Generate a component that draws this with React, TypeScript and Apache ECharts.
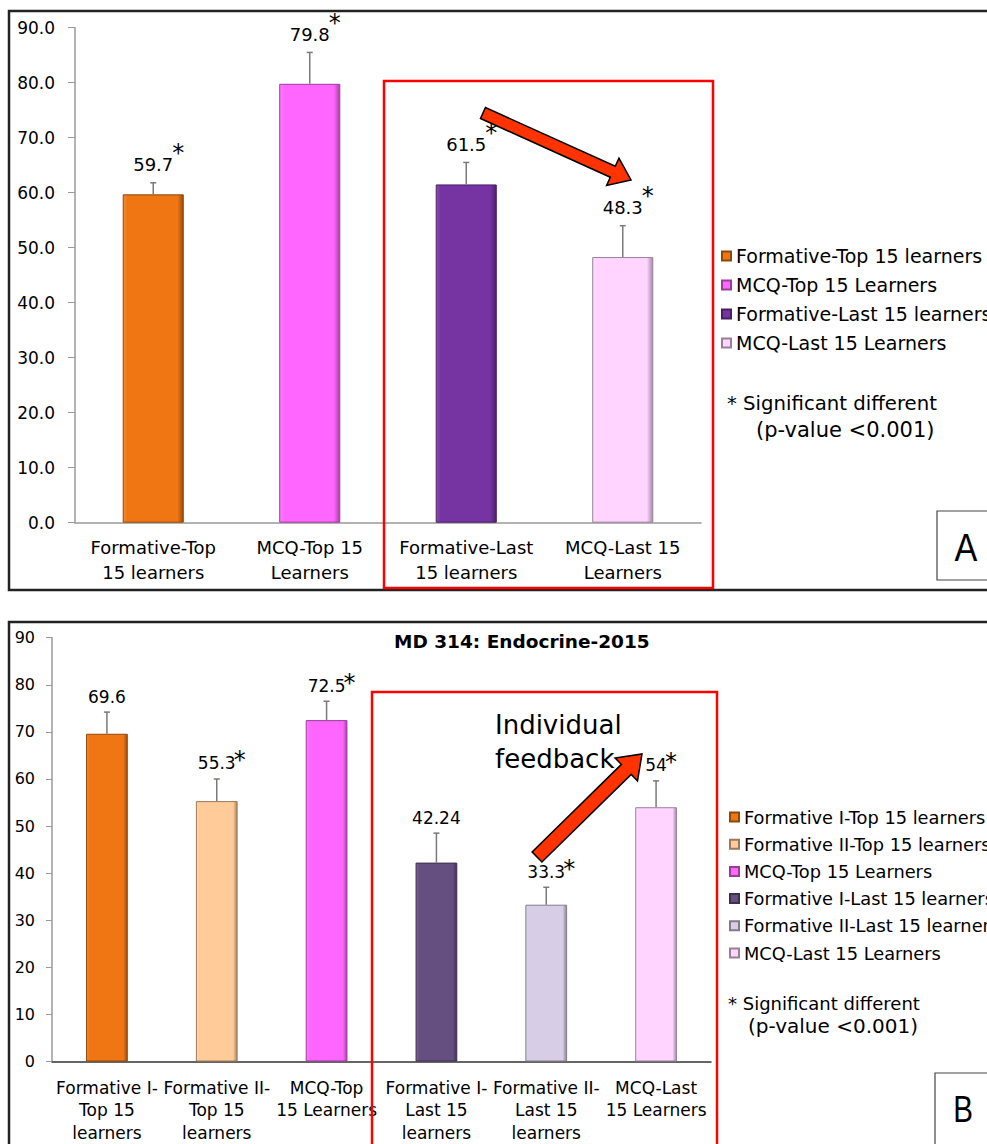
import React, { useEffect, useRef } from "react";
import * as echarts from "echarts";

// ---------- data ----------
const topCategories = ["Formative-Top\n15 learners", "MCQ-Top 15\nLearners", "Formative-Last\n15 learners", "MCQ-Last 15\nLearners"];
const topSeriesNames = ["Formative-Top 15 learners", "MCQ-Top 15 Learners", "Formative-Last 15 learners", "MCQ-Last 15 Learners"];
const topValues = [59.7, 79.8, 61.5, 48.3];
const topErrorTops = [61.8, 85.5, 65.5, 54.0];
const topLabels = ["59.7", "79.8", "61.5", "48.3"];
const topSignificant = [true, true, true, true];
const topColors = ["#F07613", "#FF66FF", "#7634A3", "#FFD5FF"];

const bottomCategories = ["Formative I-\nTop 15\nlearners", "Formative II-\nTop 15\nlearners", "MCQ-Top\n15 Learners", "Formative I-\nLast 15\nlearners", "Formative II-\nLast 15\nlearners", "MCQ-Last\n15 Learners"];
const bottomSeriesNames = ["Formative I-Top 15 learners", "Formative II-Top 15 learners", "MCQ-Top 15 Learners", "Formative I-Last 15 learners", "Formative II-Last 15 learners", "MCQ-Last 15 Learners"];
const bottomValues = [69.6, 55.3, 72.5, 42.24, 33.3, 54];
const bottomErrorTops = [74.2, 60.0, 76.5, 48.5, 37.0, 59.6];
const bottomLabels = ["69.6", "55.3", "72.5", "42.24", "33.3", "54"];
const bottomSignificant = [false, true, true, false, true, true];
const bottomColors = ["#F07613", "#FFCC99", "#FF66FF", "#654F80", "#D7CDE6", "#FFD5FF"];

const bottomTitle = "MD 314: Endocrine-2015";
const noteLine1 = "* Significant different";
const noteLine2 = "(p-value <0.001)";
const annotation = "Individual\nfeedback";

const FONT = "DejaVu Sans";

// ---------- helpers ----------
let ctx: CanvasRenderingContext2D | null = null;
function measure(text: string, size: number) {
  if (!ctx) ctx = document.createElement("canvas").getContext("2d");
  if (!ctx) return text.length * size * 0.6;
  ctx.font = `${size}px "${FONT}"`;
  return ctx.measureText(text).width;
}

function shade(hex: string, f: number) {
  const n = parseInt(hex.slice(1), 16);
  let r = (n >> 16) & 255, g = (n >> 8) & 255, b = n & 255;
  if (f < 0) {
    r = Math.round(r * (1 + f)); g = Math.round(g * (1 + f)); b = Math.round(b * (1 + f));
  } else {
    r = Math.round(r + (255 - r) * f); g = Math.round(g + (255 - g) * f); b = Math.round(b + (255 - b) * f);
  }
  return `rgb(${r},${g},${b})`;
}

function barStyle(c: string) {
  return {
    color: new echarts.graphic.LinearGradient(0, 0, 1, 0, [
      { offset: 0, color: shade(c, 0.15) },
      { offset: 0.07, color: c },
      { offset: 0.9, color: c },
      { offset: 1, color: shade(c, -0.35) },
    ]),
    borderColor: shade(c, -0.4),
    borderWidth: 1,
  };
}

function arrowPoints(tail: number[], tip: number[], sw: number, hw: number, hl: number) {
  const dx = tip[0] - tail[0], dy = tip[1] - tail[1];
  const len = Math.hypot(dx, dy);
  const ux = dx / len, uy = dy / len;
  const px = -uy, py = ux;
  const bx = tip[0] - ux * hl, by = tip[1] - uy * hl;
  return [
    [tail[0] + px * sw / 2, tail[1] + py * sw / 2],
    [bx + px * sw / 2, by + py * sw / 2],
    [bx + px * hw / 2, by + py * hw / 2],
    [tip[0], tip[1]],
    [bx - px * hw / 2, by - py * hw / 2],
    [bx - px * sw / 2, by - py * sw / 2],
    [tail[0] - px * sw / 2, tail[1] - py * sw / 2],
  ];
}

function makeErrorRender(labels: string[], sig: boolean[], fontSize: number, gap: number, starRise: number, starDx: number) {
  return (params: any, api: any) => {
    const idx = params.dataIndex;
    const base = api.coord([api.value(0), api.value(1)]);
    const top = api.coord([api.value(0), api.value(2)]);
    const x = base[0];
    const label = labels[idx];
    const w = measure(label, fontSize);
    const labelBottom = top[1] - gap;
    const children: any[] = [
      { type: "line", shape: { x1: x, y1: base[1], x2: x, y2: top[1] }, style: { stroke: "#7a7a7a", lineWidth: 1.5 } },
      { type: "line", shape: { x1: x - 3, y1: top[1], x2: x + 3, y2: top[1] }, style: { stroke: "#7a7a7a", lineWidth: 1.5 } },
      {
        type: "text", x, y: labelBottom,
        style: { text: label, fontSize, fontFamily: FONT, fill: "#000", align: "center", verticalAlign: "bottom" },
      },
    ];
    if (sig[idx]) {
      const fs = 24;
      children.push({
        type: "text", x: x + w / 2 + starDx, y: labelBottom - starRise - 0.23 * fs,
        style: { text: "*", fontSize: fs, fontFamily: FONT, fill: "#000", align: "center", verticalAlign: "top" },
      });
    }
    return { type: "group", children };
  };
}

function oneHot(values: number[], i: number) {
  return values.map((v, j) => (j === i ? v : null));
}

export default function App() {
  const ref = useRef<HTMLDivElement>(null);
  useEffect(() => {
    if (!ref.current) return;
    const chart = echarts.init(ref.current, null, { renderer: "svg" });

    const topBars = topSeriesNames.map((name, i) => ({
      name, type: "bar", xAxisIndex: 0, yAxisIndex: 0, stack: "top",
      barWidth: "39%", data: oneHot(topValues, i), itemStyle: barStyle(topColors[i]),
    }));
    const bottomBars = bottomSeriesNames.map((name, i) => ({
      name, type: "bar", xAxisIndex: 1, yAxisIndex: 1, stack: "bottom",
      barWidth: "38%", data: oneHot(bottomValues, i), itemStyle: barStyle(bottomColors[i]),
    }));

    const topArrow = arrowPoints([483, 113], [631, 180], 12, 30, 20);
    const bottomArrow = arrowPoints([537, 857], [642, 754], 14, 32, 22);

    chart.setOption({
      animation: false,
      title: {
        text: bottomTitle, left: 389, top: 627,
        textStyle: { fontFamily: FONT, fontSize: 18.5, fontWeight: "bold", color: "#000" },
      },
      grid: [
        { left: 75, top: 27.7, width: 626, height: 495 },
        { left: 52, top: 637.7, width: 659, height: 426 },
      ],
      xAxis: [
        {
          gridIndex: 0, type: "category", data: topCategories,
          axisLine: { lineStyle: { color: "#9a9a9a", width: 1.5 } },
          axisTick: { length: 7, lineStyle: { color: "#9a9a9a" } },
          axisLabel: { interval: 0, fontFamily: FONT, fontSize: 18, lineHeight: 25, margin: 12, color: "#000" },
        },
        {
          gridIndex: 1, type: "category", data: bottomCategories,
          axisLine: { lineStyle: { color: "#333", width: 1.5 } },
          axisTick: { length: 6, lineStyle: { color: "#333" } },
          axisLabel: { interval: 0, fontFamily: FONT, fontSize: 17, lineHeight: 22.5, margin: 15, color: "#000" },
        },
      ],
      yAxis: [
        {
          gridIndex: 0, type: "value", min: 0, max: 90, interval: 10,
          axisLine: { show: true, lineStyle: { color: "#9a9a9a", width: 1.5 } },
          axisTick: { show: true, length: 7, lineStyle: { color: "#9a9a9a" } },
          splitLine: { show: false },
          axisLabel: { fontFamily: FONT, fontSize: 17, margin: 20, color: "#000", formatter: (v: number) => v.toFixed(1) },
        },
        {
          gridIndex: 1, type: "value", min: 0, max: 90, interval: 10,
          axisLine: { show: true, lineStyle: { color: "#9a9a9a", width: 1.5 } },
          axisTick: { show: true, length: 6, lineStyle: { color: "#9a9a9a" } },
          splitLine: { show: false },
          axisLabel: { fontFamily: FONT, fontSize: 16, margin: 17, color: "#000" },
        },
      ],
      legend: [
        {
          data: topSeriesNames, orient: "vertical", left: 721, top: 246.5, padding: 0,
          itemWidth: 9, itemHeight: 9, itemGap: 10, icon: "rect", selectedMode: false,
          textStyle: { fontFamily: FONT, fontSize: 19, lineHeight: 18, color: "#000" },
        },
        {
          data: bottomSeriesNames, orient: "vertical", left: 729, top: 808, padding: 0,
          itemWidth: 9, itemHeight: 9, itemGap: 9.2, icon: "rect", selectedMode: false,
          textStyle: { fontFamily: FONT, fontSize: 17.8, lineHeight: 17, color: "#000" },
        },
      ],
      series: [
        ...topBars,
        ...bottomBars,
        {
          type: "custom", xAxisIndex: 0, yAxisIndex: 0, z: 5, clip: false,
          renderItem: makeErrorRender(topLabels, topSignificant, 18, 9, 27, 5),
          data: topValues.map((v, i) => [i, v, topErrorTops[i]]),
          encode: { x: 0, y: [1, 2] },
        },
        {
          type: "custom", xAxisIndex: 1, yAxisIndex: 1, z: 5, clip: false,
          renderItem: makeErrorRender(bottomLabels, bottomSignificant, 17, 7, 18, 4),
          data: bottomValues.map((v, i) => [i, v, bottomErrorTops[i]]),
          encode: { x: 0, y: [1, 2] },
        },
      ],
      graphic: [
        // panel frames
        { type: "rect", shape: { x: 9, y: 11, width: 990, height: 579 }, style: { fill: "none", stroke: "#222", lineWidth: 2.5 }, z: 0 },
        { type: "rect", shape: { x: 9, y: 622, width: 990, height: 540 }, style: { fill: "none", stroke: "#222", lineWidth: 2.5 }, z: 0 },
        // red highlight boxes
        { type: "rect", shape: { x: 384, y: 81, width: 329, height: 507 }, style: { fill: "none", stroke: "#ff0000", lineWidth: 2.5 }, z: 10 },
        { type: "rect", shape: { x: 372, y: 692, width: 345, height: 470 }, style: { fill: "none", stroke: "#ff0000", lineWidth: 2.5 }, z: 10 },
        // panel letters
        { type: "rect", shape: { x: 937, y: 511, width: 70, height: 69 }, style: { fill: "#fff", stroke: "#444", lineWidth: 1.2 }, z: 10 },
        { type: "text", x: 966, y: 548, scaleX: 0.9, style: { text: "A", fontFamily: "Liberation Sans", fontSize: 38, fill: "#000", align: "center", verticalAlign: "middle" }, z: 11 },
        { type: "rect", shape: { x: 935, y: 1073, width: 70, height: 90 }, style: { fill: "#fff", stroke: "#444", lineWidth: 1.2 }, z: 10 },
        { type: "text", x: 963, y: 1109, scaleX: 0.8, style: { text: "B", fontFamily: "Liberation Sans", fontSize: 37, fill: "#000", align: "center", verticalAlign: "middle" }, z: 11 },
        // significance notes
        { type: "text", x: 727, y: 403, style: { text: noteLine1, fontFamily: FONT, fontSize: 19.7, fill: "#000", verticalAlign: "middle" }, z: 10 },
        { type: "text", x: 756, y: 430, style: { text: noteLine2, fontFamily: FONT, fontSize: 21, fill: "#000", verticalAlign: "middle" }, z: 10 },
        { type: "text", x: 728, y: 1003, style: { text: noteLine1, fontFamily: FONT, fontSize: 18, fill: "#000", verticalAlign: "middle" }, z: 10 },
        { type: "text", x: 748, y: 1026, style: { text: noteLine2, fontFamily: FONT, fontSize: 20, fill: "#000", verticalAlign: "middle" }, z: 10 },
        // annotation
        { type: "text", x: 495, y: 708, style: { text: annotation, fontFamily: FONT, fontSize: 26, lineHeight: 34, fill: "#000", verticalAlign: "top" }, z: 10 },
        // arrows
        { type: "polygon", shape: { points: topArrow }, style: { fill: "#FF3300", stroke: "#000", lineWidth: 1.5 }, z: 12 },
        { type: "polygon", shape: { points: bottomArrow }, style: { fill: "#FF3300", stroke: "#000", lineWidth: 1.5 }, z: 12 },
      ],
    });
    return () => chart.dispose();
  }, []);
  return <div ref={ref} style={{ position: "absolute", left: 0, top: 0, width: 987, height: 1144 }} />;
}
